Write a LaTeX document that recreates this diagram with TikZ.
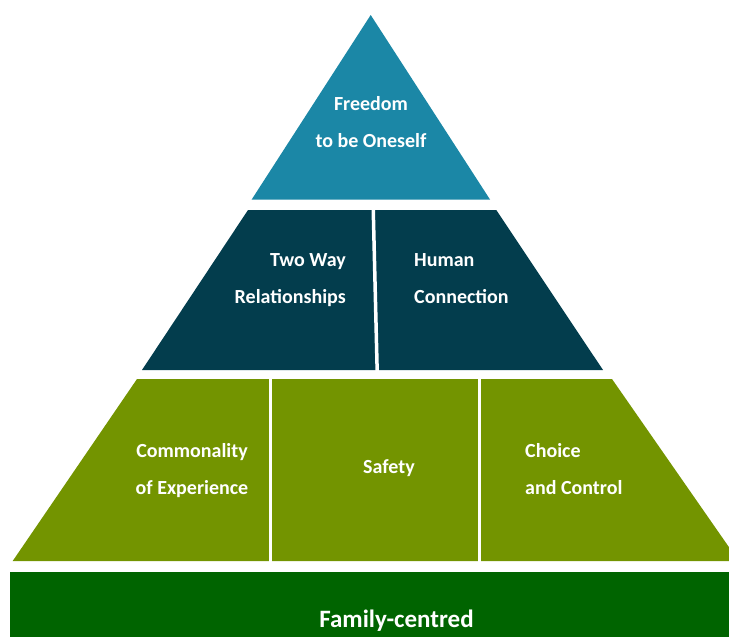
\documentclass[tikz,border=0pt]{standalone}
\usepackage{fontspec}
\setmainfont{Carlito}
\usepackage{tikz}

\definecolor{topblue}{RGB}{27,135,166}
\definecolor{midblue}{RGB}{3,61,77}
\definecolor{leafgreen}{RGB}{115,148,0}
\definecolor{basegreen}{RGB}{0,100,0}

\tikzset{
	txt/.style={text=white, inner sep=0pt, font=\bfseries\fontsize{20}{24}\selectfont},
	gap/.style={white, line width=3.5pt}
}

\begin{document}
\begin{tikzpicture}[x=1pt,y=-1pt]
	\useasboundingbox (0,0) rectangle (729,637);
	\clip (0,0) rectangle (729,637);
	% top
	\fill[topblue] (370.7,15) -- (490,199.5) -- (251.7,199.5) -- cycle;
	% middle band
	\fill[midblue] (248,210) -- (496.3,210) -- (603,370) -- (142,370) -- cycle;
	\draw[gap] (373.2,208) -- (377.2,372);
	% bottom band
	\fill[leafgreen] (137,379) -- (612,379) -- (738.6,561) -- (12.7,561) -- cycle;
	\draw[gap] (270.7,377) -- (270.7,563);
	\draw[gap] (479.7,377) -- (479.7,563);
	% base
	\fill[basegreen] (10,572) rectangle (745,650);

	\node[txt, anchor=base] (freedom) at (371,110) {Freedom};
	\node[txt, anchor=base] (oneself) at (371,147) {to be Oneself};
	\node[txt, anchor=base east] (twoway) at (346,266) {Two Way};
	\node[txt, anchor=base east] (relationships) at (346,303) {Relationships};
	\node[txt, anchor=base west] (human) at (414,266) {Human};
	\node[txt, anchor=base west] (connection) at (414,303) {Connection};
	\node[txt, anchor=base] (commonality) at (192,457) {Commonality};
	\node[txt, anchor=base] (experience) at (192,494) {of Experience};
	\node[txt, anchor=base] (safety) at (389,473) {Safety};
	\node[txt, anchor=base west] (choice) at (525,457) {Choice};
	\node[txt, anchor=base west] (control) at (525,494) {and Control};
	\node[txt, anchor=base, font=\bfseries\fontsize{25}{30}\selectfont] (family) at (396.5,627) {Family-centred};
\end{tikzpicture}
\end{document}
